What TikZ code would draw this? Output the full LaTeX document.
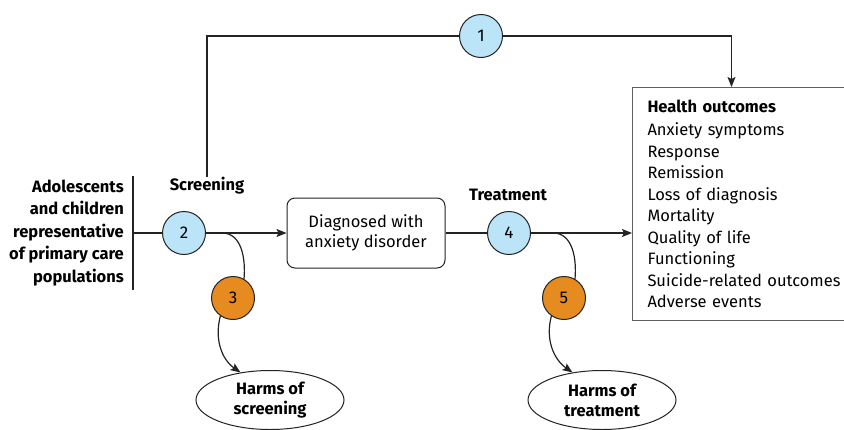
\documentclass[tikz,border=0pt]{standalone}
\usepackage{fontspec}
\setmainfont{Fira Sans}
\usepackage{tikz}
\usetikzlibrary{shapes,arrows.meta,calc}
\definecolor{kqblue}{RGB}{187,228,248}
\definecolor{kqorange}{RGB}{229,139,32}
\definecolor{ink}{RGB}{35,35,35}
\definecolor{boxgray}{RGB}{95,95,95}
\tikzstyle{line} = [draw=ink, line width=1.2pt]
\tikzstyle{arrow} = [line, -{Stealth[length=10pt,width=8pt,inset=2pt]}]
\tikzstyle{kq} = [draw=ink, circle, minimum size=43pt, inner sep=0pt, line width=1pt, fill=kqblue, font=\fontsize{17}{20}\selectfont]
\tikzstyle{harmkq} = [kq, fill=kqorange]
\tikzstyle{block} = [draw=ink, rectangle, rounded corners=8pt, align=center, minimum width=158pt, minimum height=70pt, line width=1pt, font=\fontsize{16.5}{19.5}\selectfont]
\tikzstyle{harm} = [draw=ink, ellipse, align=center, minimum width=148pt, minimum height=59pt, inner sep=0pt, line width=1pt, font=\fontsize{16.5}{20}\selectfont\bfseries]
\tikzstyle{stage} = [anchor=base, font=\fontsize{16.5}{19.5}\selectfont\bfseries]

\begin{document}
\begin{tikzpicture}[x=1pt, y=-1pt, font=\fontsize{16.5}{21.5}\selectfont]
        \useasboundingbox (0,0) rectangle (844,429);
        % population, bar on its right
        \node[anchor=east, align=right, inner xsep=9pt, inner ysep=0pt, minimum height=113pt, font=\fontsize{16.5}{22.5}\selectfont\bfseries] (pop) at (133,233) {Adolescents\\and children\\representative\\of primary care\\populations};
        \draw[line] (pop.north east) -- (pop.south east);
        % key questions
        \node[kq] (kq1) at (481,36) {1};
        \node[kq] (kq2) at (184,233) {2};
        \node[harmkq] (kq3) at (233,298) {3};
        \node[kq] (kq4) at (509,233) {4};
        \node[harmkq] (kq5) at (564,298) {5};
        \node[stage] (screen) at (207,190) {Screening};
        \node[stage] (treat) at (508,200) {Treatment};
        \node[block] (diag) at (366,233) {Diagnosed with\\anxiety disorder};
        \node[draw=boxgray, line width=1pt, rectangle, anchor=north west, align=left, text width=215pt, inner xsep=15pt, minimum height=233pt] (health) at (632,87) {\textbf{Health outcomes}\\[1.5pt]Anxiety symptoms\\Response\\Remission\\Loss of diagnosis\\Mortality\\Quality of life\\Functioning\\Suicide-related outcomes\\Adverse events};
        \node[harm] (harm1) at (270,400) {Harms of\\screening};
        \node[harm] (harm2) at (602,400) {Harms of\\treatment};
        % connectors
        \path[line] (pop.east) -- (kq2);
        \path[arrow] (kq2) -- (diag);
        \path[line] (diag) -- (kq4);
        \path[arrow] (kq4) -- (health.west |- kq4);
        \path[line] ([yshift=-4pt]screen.north) |- (kq1);
        \path[arrow] (kq1) -| ([xshift=-23.5pt]health.north);
        \path[line] ([xshift=16pt]kq2.east) to[out=0, in=85] (kq3.60);
        \path[arrow] (kq3.235) to[out=-105, in=145] (harm1.137);
        \path[line] ([xshift=22pt]kq4.east) to[out=0, in=85] (kq5.60);
        \path[arrow] (kq5.235) to[out=-105, in=145] (harm2.137);
    \end{tikzpicture}
\end{document}
